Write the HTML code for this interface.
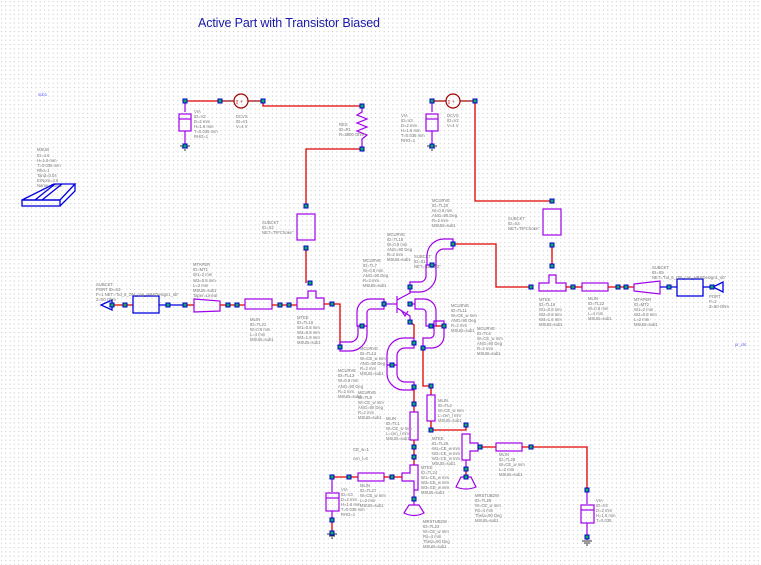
<!DOCTYPE html>
<html><head><meta charset="utf-8"><style>
html,body{margin:0;padding:0;background:#fff;}
svg{display:block;}
.w{stroke:#e00000;stroke-width:1.3;fill:none;}
.p{stroke:#a000e8;stroke-width:1.2;fill:none;}
.b{stroke:#0000e0;stroke-width:1.3;fill:none;}
.d{stroke:#a00000;stroke-width:1.2;fill:none;}
.l{font-family:"Liberation Sans",sans-serif;font-size:4.2px;fill:#777;}
.n{fill:#22aa22;stroke:#0000cc;stroke-width:1;}
</style></head><body>
<svg width="761" height="565" viewBox="0 0 761 565" xmlns="http://www.w3.org/2000/svg">
<defs>
<pattern id="g" width="4.3" height="4.3" patternUnits="userSpaceOnUse"><rect x="1" y="1" width="1" height="1" fill="#c4c4c4"/></pattern>
</defs>
<rect width="761" height="565" fill="#fff"/>
<rect width="761" height="565" fill="url(#g)"/>
<text x="198" y="27" font-family="Liberation Sans,sans-serif" font-size="12.5" fill="#1a1aa8" textLength="182">Active Part with Transistor Biased</text>
<text x="38" y="96" class="l" fill="#55f" style="fill:#66f">sub1</text>
<text x="735" y="346" class="l" style="fill:#66f">pr_ckt</text>

<!-- MSUB -->
<g class="l"><text x="37" y="151">MSUB</text><text x="37" y="157">Er=4.6</text><text x="37" y="162">H=1.6 mm</text><text x="37" y="167">T=0.035 mm</text><text x="37" y="172">Rho=1</text><text x="37" y="177">Tand=0.04</text><text x="37" y="182">ErNom=4.6</text><text x="37" y="187">Name=SUB1</text></g>
<g class="b"><polygon points="22,200 54,184 75,184 60,200"/><rect x="22" y="200" width="38" height="6"/><polyline points="60,206 75,191 75,184"/><line x1="35" y1="200" x2="55" y2="184"/><line x1="42" y1="200" x2="62" y2="184"/></g>

<!-- Left bias -->
<polyline class="w" points="185,101 220,101"/>
<polyline class="d" points="220,101 234,101"/><circle class="d" cx="241" cy="101" r="7"/><text x="236" y="104" font-size="6" fill="#a00">I +</text>
<polyline class="d" points="248,101 263,101"/>
<polyline class="w" points="263,101 263,106 362,106"/>
<polyline class="p" points="362,106 362,112 357,115 367,119 357,123 367,127 357,131 367,135 362,139 362,149"/>
<polyline class="w" points="362,149 306,149 306,205"/>
<rect class="p" x="297" y="214" width="18" height="26"/>
<polyline class="w" points="306,248 306,283"/>
<g class="l"><text x="339" y="126">RES</text><text x="339" y="131">ID=R1</text><text x="339" y="136">R=3800 Ohm</text><text x="236" y="118">DCVS</text><text x="236" y="123">ID=V1</text><text x="236" y="128">V=4 V</text><text x="194" y="113">VIA</text><text x="194" y="118">ID=V2</text><text x="194" y="123">D=2 mm</text><text x="194" y="128">H=1.6 mm</text><text x="194" y="133">T=0.035 mm</text><text x="194" y="138">RHO=1</text><text x="262" y="224">SUBCKT</text><text x="262" y="229">ID=S2</text><text x="262" y="234">NET="RFChoke"</text></g>
<!-- via left -->
<line class="p" x1="185" y1="101" x2="185" y2="112"/>
<rect class="p" x="179" y="114" width="12" height="17"/><line class="p" x1="179" y1="119" x2="191" y2="119"/>
<line class="p" x1="185" y1="131" x2="185" y2="145"/>
<g stroke="#333" stroke-width="1"><line x1="180" y1="146" x2="190" y2="146"/><line x1="182" y1="148" x2="188" y2="148"/><line x1="184" y1="150" x2="186" y2="150"/></g>

<!-- Left input chain -->
<polygon class="b" points="112,300 101,305 112,310"/>
<polyline class="w" points="112,305 133,305"/>
<rect class="b" x="133" y="296" width="26" height="17"/>
<polyline class="b" points="159,305 185,305"/><polyline class="w" points="185,305 194,305"/>
<polygon class="p" points="194,299 220,301 220,311 194,312"/>
<polyline class="w" points="220,305 245,305"/>
<rect class="p" x="245" y="299" width="27" height="10"/>
<polyline class="w" points="272,305 297,305"/>
<polygon class="p" points="297,298 308,298 308,291 316,291 316,298 324,298 324,309 297,309"/>
<g class="l"><text x="96" y="286">SUBCKT</text><text x="96" y="291">PORT ID=S3</text><text x="96" y="296">P=1  NET="hd_6_ON_cap_HR&amp;Design1_sb"</text><text x="96" y="301">Z=50 Ohm</text><text x="193" y="266">MTAPER</text><text x="193" y="271">ID=MT1</text><text x="193" y="276">W1=2 mm</text><text x="193" y="282">W2=0.8 mm</text><text x="193" y="287">L=2 mm</text><text x="193" y="292">MSUB=sub1</text><text x="193" y="297">Taper=Linear</text><text x="250" y="321">MLIN</text><text x="250" y="326">ID=TL21</text><text x="250" y="331">W=0.8 mm</text><text x="250" y="336">L=4 mm</text><text x="250" y="341">MSUB=sub1</text><text x="297" y="319">MTEE</text><text x="297" y="324">ID=TL15</text><text x="297" y="329">W1=0.8 mm</text><text x="297" y="334">W2=0.8 mm</text><text x="297" y="339">W3=1.6 mm</text><text x="297" y="344">MSUB=sub1</text></g>

<!-- Right bias -->
<line class="p" x1="432" y1="101" x2="432" y2="112"/>
<rect class="p" x="426" y="114" width="12" height="17"/><line class="p" x1="426" y1="119" x2="438" y2="119"/>
<line class="p" x1="432" y1="131" x2="432" y2="145"/>
<g stroke="#333" stroke-width="1"><line x1="427" y1="146" x2="437" y2="146"/><line x1="429" y1="148" x2="435" y2="148"/><line x1="431" y1="150" x2="433" y2="150"/></g>
<polyline class="d" points="432,101 446,101"/><circle class="d" cx="453" cy="101" r="7"/><text x="448" y="104" font-size="6" fill="#a00">I +</text>
<polyline class="d" points="460,101 475,101"/>
<polyline class="w" points="475,101 475,201 552,201"/>
<rect class="p" x="543" y="209" width="18" height="26"/>
<polyline class="w" points="552,245 552,266"/>
<polygon class="p" points="539,283 549,283 549,275 556,275 556,283 566,283 566,291 539,291"/>
<polyline class="w" points="453,244 496,244 496,287 531,287"/>
<polyline class="w" points="566,287 582,287"/>
<rect class="p" x="582" y="283" width="26" height="8"/>
<polyline class="w" points="608,287 634,287"/>
<polygon class="p" points="634,284 660,281 660,294 634,291"/>
<polyline class="b" points="660,287 677,287"/>
<rect class="b" x="677" y="279" width="26" height="17"/>
<polyline class="b" points="703,287 713,287"/><polygon class="b" points="713,287 723,282 723,292"/>
<g class="l"><text x="401" y="117">VIA</text><text x="401" y="122">ID=V3</text><text x="401" y="127">D=2 mm</text><text x="401" y="132">H=1.6 mm</text><text x="401" y="137">T=0.035 mm</text><text x="401" y="142">RHO=1</text><text x="447" y="117">DCVS</text><text x="447" y="122">ID=V2</text><text x="447" y="127">V=4 V</text><text x="508" y="220">SUBCKT</text><text x="508" y="225">ID=S4</text><text x="508" y="230">NET="RFChoke"</text><text x="539" y="301">MTEE</text><text x="539" y="306">ID=TL16</text><text x="539" y="311">W1=0.8 mm</text><text x="539" y="316">W2=0.8 mm</text><text x="539" y="321">W3=1.6 mm</text><text x="539" y="326">MSUB=sub1</text><text x="588" y="300">MLIN</text><text x="588" y="305">ID=TL22</text><text x="588" y="310">W=0.8 mm</text><text x="588" y="315">L=4 mm</text><text x="588" y="320">MSUB=sub1</text><text x="634" y="301">MTAPER</text><text x="634" y="306">ID=MT2</text><text x="634" y="311">W1=2 mm</text><text x="634" y="316">W2=0.8 mm</text><text x="634" y="321">L=2 mm</text><text x="634" y="326">MSUB=sub1</text><text x="652" y="269">SUBCKT</text><text x="652" y="274">ID=S5</text><text x="652" y="279">NET="hd_6_ON_cap_HR&amp;Design1_sb"</text><text x="709" y="298">PORT</text><text x="709" y="303">P=2</text><text x="709" y="308">Z=50 Ohm</text><text x="432" y="202">MCURVE</text><text x="432" y="207">ID=TL20</text><text x="432" y="212">W=0.8 mm</text><text x="432" y="217">ANG=90 Deg</text><text x="432" y="222">R=2 mm</text><text x="432" y="227">MSUB=sub1</text></g>

<!-- Center -->
<polyline class="w" points="324,304 340,304 340,347"/>
<!-- transistor -->
<line class="p" x1="384" y1="304" x2="397" y2="304"/>
<line class="p" x1="397" y1="296" x2="397" y2="313" stroke-width="1.6"/>
<polyline class="p" points="397,300 410,293 410,287"/>
<polyline class="p" points="397,308 410,316 410,322"/>
<polyline class="p" points="401,310 405,316 408,311"/>
<line class="p" x1="410" y1="304" x2="415" y2="304"/>
<!-- curves -->
<path class="p" d="M384,299 L370,299 A13,13 0 0 0 357,312 L357,326 L367,326 L367,312 A4,4 0 0 1 371,309 L384,309 Z"/>
<path class="p" d="M340,342 L350,342 A8,8 0 0 0 358,334 L358,326 L367,326 L367,334 A17,17 0 0 1 350,351 L340,351 Z"/>
<path class="p" d="M410,282 L420,282 A6,6 0 0 0 426,276 L426,265 L436,265 L436,276 A17,17 0 0 1 419,292 L410,292 Z"/>
<path class="p" d="M427,265 L427,255 A17,17 0 0 1 444,239 L453,239 L453,249 L444,249 A8,8 0 0 0 436,257 L436,265 Z"/>
<path class="p" d="M415,299 L424,299 A12,12 0 0 1 436,311 L436,326 L426,326 L426,312 A4,4 0 0 0 422,309 L415,309 Z"/>
<path class="p" d="M444,321 L444,336 A12,12 0 0 1 432,348 L423,348 L423,338 L430,338 A4,4 0 0 0 434,334 L434,321 Z"/>
<path class="p" d="M414,338 L404,338 A17,17 0 0 0 387,355 L387,365 L397,365 L397,357 A8,8 0 0 1 405,348 L414,348 Z"/>
<path class="p" d="M387,365 L387,372 A17,17 0 0 0 404,390 L414,390 L414,382 L405,382 A8,8 0 0 1 397,374 L397,365 Z"/>
<polyline class="w" points="436,326 444,326"/>
<polyline class="w" points="410,322 414,325 414,338"/>
<polyline class="w" points="423,348 423,386 431,386 431,395"/>
<rect class="p" x="427" y="395" width="8" height="26"/>
<polyline class="w" points="431,421 431,430 466,430 466,425"/>
<polyline class="w" points="414,390 414,412"/>
<rect class="p" x="410" y="412" width="8" height="28"/>
<polyline class="w" points="414,440 414,465"/>
<polygon class="p" points="410,465 418,465 418,490 414,490 414,481 402,481 402,473 410,473"/>
<line class="p" x1="414" y1="490" x2="414" y2="505"/>
<path class="p" d="M409,505 L419,505 L424,513 Q414,518 404,513 Z"/>
<!-- left via2 -->
<polyline class="w" points="332,477 358,477"/>
<rect class="p" x="358" y="473" width="26" height="8"/>
<polyline class="w" points="384,477 402,477"/>
<line class="p" x1="332" y1="477" x2="332" y2="492"/>
<rect class="p" x="326" y="493" width="13" height="18"/><line class="p" x1="326" y1="498" x2="339" y2="498"/>
<line class="p" x1="332" y1="511" x2="332" y2="520"/><polyline class="w" points="332,520 332,533"/>
<g stroke="#333" stroke-width="1"><line x1="327" y1="534" x2="337" y2="534"/><line x1="329" y1="536" x2="335" y2="536"/><line x1="331" y1="538" x2="333" y2="538"/></g>
<!-- right tee -->
<polygon class="p" points="462,434 470,434 470,443 478,443 478,451 470,451 470,460 462,460"/>
<line class="p" x1="466" y1="460" x2="466" y2="470"/><polyline class="w" points="466,470 466,477"/>
<path class="p" d="M461,477 L471,477 L476,487 Q466,491 456,487 Z"/>
<polyline class="w" points="478,447 496,447"/>
<rect class="p" x="496" y="443" width="26" height="8"/>
<polyline class="w" points="522,447 587,447 587,490"/>
<line class="p" x1="587" y1="490" x2="587" y2="504"/>
<rect class="p" x="581" y="505" width="13" height="18"/><line class="p" x1="581" y1="510" x2="594" y2="510"/>
<line class="p" x1="587" y1="523" x2="587" y2="540"/>
<g stroke="#333" stroke-width="1"><line x1="582" y1="541" x2="592" y2="541"/><line x1="584" y1="543" x2="590" y2="543"/><line x1="586" y1="545" x2="588" y2="545"/></g>
<!-- subckt center -->
<g class="l"><text x="414" y="258">SUBCKT</text><text x="414" y="263">ID=S1</text><text x="414" y="268">NET="BFR92"</text>
<text x="387" y="236">MCURVE</text><text x="387" y="241">ID=TL18</text><text x="387" y="246">W=0.8 mm</text><text x="387" y="251">ANG=90 Deg</text><text x="387" y="256">R=2 mm</text><text x="387" y="261">MSUB=sub1</text>
<text x="363" y="262">MCURVE</text><text x="363" y="267">ID=TL7</text><text x="363" y="272">W=0.8 mm</text><text x="363" y="277">ANG=90 Deg</text><text x="363" y="282">R=2 mm</text><text x="363" y="287">MSUB=sub1</text>
<text x="451" y="307">MCURVE</text><text x="451" y="312">ID=TL11</text><text x="451" y="317">W=CE_w mm</text><text x="451" y="322">ANG=90 Deg</text><text x="451" y="327">R=2 mm</text><text x="451" y="332">MSUB=sub1</text>
<text x="477" y="330">MCURVE</text><text x="477" y="335">ID=TL6</text><text x="477" y="340">W=CE_w mm</text><text x="477" y="345">ANG=90 Deg</text><text x="477" y="350">R=2 mm</text><text x="477" y="355">MSUB=sub1</text>
<text x="360" y="350">MCURVE</text><text x="360" y="355">ID=TL12</text><text x="360" y="360">W=CE_w mm</text><text x="360" y="365">ANG=90 Deg</text><text x="360" y="370">R=2 mm</text><text x="360" y="375">MSUB=sub1</text>
<text x="338" y="372">MCURVE</text><text x="338" y="377">ID=TL13</text><text x="338" y="382">W=0.8 mm</text><text x="338" y="388">ANG=90 Deg</text><text x="338" y="393">R=2 mm</text><text x="338" y="398">MSUB=sub1</text>
<text x="358" y="394">MCURVE</text><text x="358" y="399">ID=TL8</text><text x="358" y="404">W=CE_w mm</text><text x="358" y="409">ANG=90 Deg</text><text x="358" y="414">R=2 mm</text><text x="358" y="419">MSUB=sub1</text>
<text x="438" y="402">MLIN</text><text x="438" y="407">ID=TL2</text><text x="438" y="412">W=CE_w mm</text><text x="438" y="417">L=cen_l mm</text><text x="438" y="422">MSUB=sub1</text>
<text x="386" y="420">MLIN</text><text x="386" y="425">ID=TL1</text><text x="386" y="430">W=CE_w mm</text><text x="386" y="435">L=cen_l mm</text><text x="386" y="440">MSUB=sub1</text>
<text x="432" y="440">MTEE</text><text x="432" y="445">ID=TL26</text><text x="432" y="450">W1=CE_w mm</text><text x="432" y="455">W2=CE_w mm</text><text x="432" y="460">W3=CE_w mm</text><text x="432" y="465">MSUB=sub1</text>
<text x="353" y="451">CE_w=1</text><text x="353" y="460">cen_l=6</text>
<text x="360" y="487">MLIN</text><text x="360" y="492">ID=TL27</text><text x="360" y="497">W=CE_w mm</text><text x="360" y="502">L=2 mm</text><text x="360" y="507">MSUB=sub1</text>
<text x="341" y="491">VIA</text><text x="341" y="496">ID=V3</text><text x="341" y="501">D=2 mm</text><text x="341" y="506">H=1.6 mm</text><text x="341" y="511">T=0.035 mm</text><text x="341" y="516">RHO=1</text>
<text x="421" y="469">MTEE</text><text x="421" y="474">ID=TL24</text><text x="421" y="479">W1=CE_w mm</text><text x="421" y="484">W2=CE_w mm</text><text x="421" y="489">W3=CE_w mm</text><text x="421" y="494">MSUB=sub1</text>
<text x="423" y="523">MRSTUB2W</text><text x="423" y="528">ID=TL23</text><text x="423" y="533">W=CE_w mm</text><text x="423" y="538">Ro=4 mm</text><text x="423" y="543">Theta=90 Deg</text><text x="423" y="548">MSUB=sub1</text>
<text x="475" y="497">MRSTUB2W</text><text x="475" y="502">ID=TL25</text><text x="475" y="507">W=CE_w mm</text><text x="475" y="512">Ro=4 mm</text><text x="475" y="517">Theta=90 Deg</text><text x="475" y="522">MSUB=sub1</text>
<text x="499" y="456">MLIN</text><text x="499" y="461">ID=TL28</text><text x="499" y="466">W=CE_w mm</text><text x="499" y="471">L=2 mm</text><text x="499" y="476">MSUB=sub1</text>
<text x="596" y="502">VIA</text><text x="596" y="507">ID=V4</text><text x="596" y="512">D=2 mm</text><text x="596" y="517">H=1.6 mm</text><text x="596" y="522">T=0.035</text></g>

<!-- nodes -->
<g fill="#1a6" stroke="#0000cc" stroke-width="1">
<rect x="183" y="99" width="4" height="4"/><rect x="218" y="99" width="4" height="4"/><rect x="261" y="99" width="4" height="4"/><rect x="360" y="104" width="4" height="4"/><rect x="360" y="147" width="4" height="4"/><rect x="304" y="204" width="4" height="4"/><rect x="304" y="246" width="4" height="4"/><rect x="308" y="281" width="4" height="4"/><rect x="183" y="144" width="4" height="4"/>
<rect x="110" y="303" width="4" height="4"/><rect x="123" y="303" width="4" height="4"/><rect x="166" y="303" width="4" height="4"/><rect x="183" y="303" width="4" height="4"/><rect x="226" y="303" width="4" height="4"/><rect x="235" y="303" width="4" height="4"/><rect x="278" y="303" width="4" height="4"/><rect x="287" y="303" width="4" height="4"/><rect x="330" y="302" width="4" height="4"/>
<rect x="430" y="99" width="4" height="4"/><rect x="473" y="99" width="4" height="4"/><rect x="430" y="144" width="4" height="4"/><rect x="550" y="199" width="4" height="4"/><rect x="550" y="243" width="4" height="4"/><rect x="550" y="264" width="4" height="4"/><rect x="529" y="285" width="4" height="4"/><rect x="571" y="285" width="4" height="4"/><rect x="616" y="285" width="4" height="4"/><rect x="624" y="285" width="4" height="4"/><rect x="667" y="285" width="4" height="4"/><rect x="710" y="285" width="4" height="4"/>
<rect x="451" y="242" width="4" height="4"/><rect x="430" y="263" width="4" height="4"/><rect x="408" y="285" width="4" height="4"/><rect x="382" y="302" width="4" height="4"/><rect x="408" y="302" width="4" height="4"/><rect x="408" y="320" width="4" height="4"/><rect x="360" y="324" width="4" height="4"/><rect x="429" y="324" width="4" height="4"/><rect x="442" y="324" width="4" height="4"/><rect x="338" y="345" width="4" height="4"/><rect x="412" y="341" width="4" height="4"/><rect x="421" y="346" width="4" height="4"/><rect x="390" y="363" width="4" height="4"/><rect x="412" y="385" width="4" height="4"/><rect x="429" y="384" width="4" height="4"/><rect x="412" y="402" width="4" height="4"/><rect x="412" y="445" width="4" height="4"/><rect x="412" y="455" width="4" height="4"/><rect x="412" y="497" width="4" height="4"/><rect x="429" y="428" width="4" height="4"/><rect x="464" y="423" width="4" height="4"/><rect x="464" y="467" width="4" height="4"/><rect x="464" y="475" width="4" height="4"/><rect x="478" y="445" width="4" height="4"/><rect x="529" y="445" width="4" height="4"/><rect x="585" y="488" width="4" height="4"/><rect x="585" y="535" width="4" height="4"/><rect x="330" y="475" width="4" height="4"/><rect x="347" y="475" width="4" height="4"/><rect x="390" y="475" width="4" height="4"/><rect x="330" y="518" width="4" height="4"/><rect x="330" y="531" width="4" height="4"/>
</g>
</svg>
</body></html>
